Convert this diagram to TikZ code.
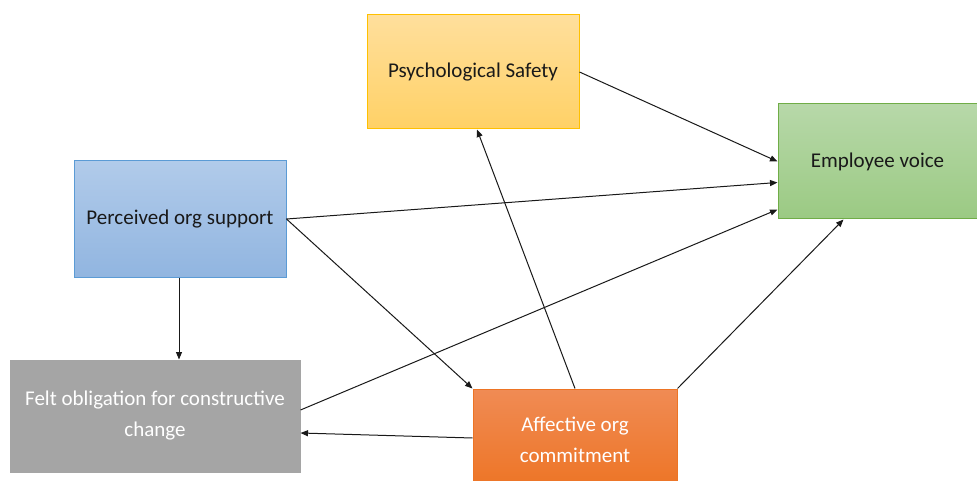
\documentclass[tikz,border=0pt]{standalone}
\usepackage{fontspec}
\setmainfont{Carlito}
\usetikzlibrary{arrows.meta,calc}
\definecolor{psyTop}{HTML}{FFDF9C}
\definecolor{psyBot}{HTML}{FFD166}
\definecolor{psyLine}{HTML}{FFC000}
\definecolor{evTop}{HTML}{B7D8A9}
\definecolor{evBot}{HTML}{9BCA83}
\definecolor{evLine}{HTML}{70AD47}
\definecolor{posTop}{HTML}{B1CBEA}
\definecolor{posBot}{HTML}{91B5E0}
\definecolor{posLine}{HTML}{5B9BD5}
\definecolor{feltFill}{HTML}{A5A5A5}
\definecolor{aocTop}{HTML}{F08B54}
\definecolor{aocBot}{HTML}{ED7424}
\tikzset{
  box/.style={draw, line width=1pt, inner sep=4pt, align=center, text=black!90,
    font=\fontsize{21}{31}\selectfont},
  link/.style={draw=black!90, line width=1pt, -{Triangle[length=7.5pt,width=6pt]}}
}
\begin{document}
\begin{tikzpicture}[x=1pt,y=-1pt]
\useasboundingbox (0,0) rectangle (977,481);
% boxes
\node[box, draw=psyLine, top color=psyTop, bottom color=psyBot,
  minimum width=212pt, minimum height=114pt] (psy) at (473,72) {Psychological Safety};
\node[box, draw=evLine, top color=evTop, bottom color=evBot,
  minimum width=199pt, minimum height=115pt] (ev) at (877.5,161.5) {Employee voice};
\node[box, draw=posLine, top color=posTop, bottom color=posBot,
  minimum width=212pt, minimum height=116pt] (pos) at (180,219) {Perceived org support};
\node[box, draw=feltFill, fill=feltFill, text=white,
  minimum width=290pt, minimum height=112pt] (felt) at (155,416) {Felt obligation for constructive\\change};
\node[box, draw=aocBot, top color=aocTop, bottom color=aocBot, text=white,
  minimum width=204pt, minimum height=102pt] (aoc) at (575,440) {Affective org\\commitment};
% paths
\draw[link] (psy.east) -- (ev.west);
\draw[link] (pos.east) -- ($(ev.west)+(0,21)$);
\draw[link] (pos.east) -- (aoc.north west);
\draw[link] ($(pos.south)+(-1,0)$) -- ($(felt.north)+(24,0)$);
\draw[link] ($(felt.east)+(0,-6)$) -- ($(ev.west)+(0,48)$);
\draw[link] (aoc.north) -- ($(psy.south)+(4,0)$);
\draw[link] (aoc.north east) -- ($(ev.south)+(-34,0)$);
\draw[link] ($(aoc.west)+(0,-2)$) -- ($(felt.east)+(0,17)$);
\end{tikzpicture}
\end{document}
